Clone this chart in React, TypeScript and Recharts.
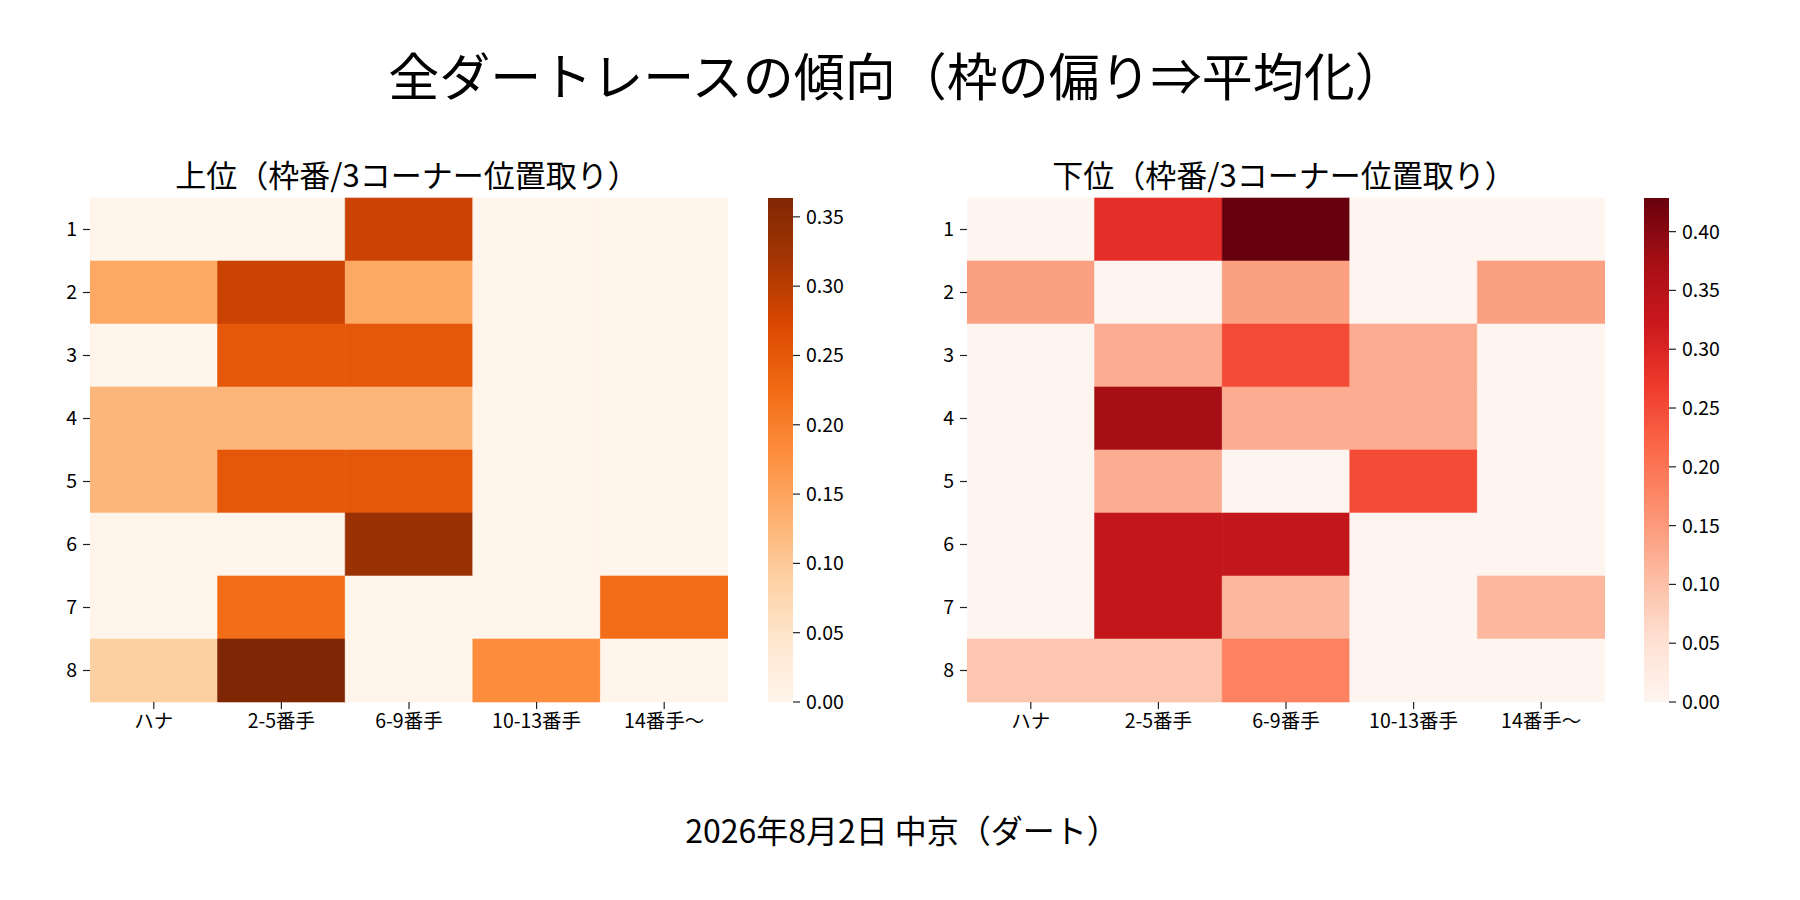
import React from 'react';
import { BarChart, Bar, XAxis, YAxis, Cell } from 'recharts';

// ---- data ----
const columns = ['ハナ', '2-5番手', '6-9番手', '10-13番手', '14番手〜'];
const rowLabels = ['1', '2', '3', '4', '5', '6', '7', '8'];

const upperValues = [
  [0, 0, 0.2857, 0, 0],
  [0.1429, 0.2857, 0.1429, 0, 0],
  [0, 0.25, 0.25, 0, 0],
  [0.125, 0.125, 0.125, 0, 0],
  [0.125, 0.25, 0.25, 0, 0],
  [0, 0, 0.3333, 0, 0],
  [0, 0.2222, 0, 0, 0.2222],
  [0.0909, 0.3636, 0, 0.1818, 0],
];

const lowerValues = [
  [0, 0.2857, 0.4286, 0, 0],
  [0.1429, 0, 0.1429, 0, 0.1429],
  [0, 0.125, 0.25, 0.125, 0],
  [0, 0.375, 0.125, 0.125, 0],
  [0, 0.125, 0, 0.25, 0],
  [0, 0.3333, 0.3333, 0, 0],
  [0, 0.3333, 0.1111, 0, 0.1111],
  [0.0909, 0.0909, 0.1818, 0, 0],
];

const upperTicks = [0, 0.05, 0.1, 0.15, 0.2, 0.25, 0.3, 0.35];
const lowerTicks = [0, 0.05, 0.1, 0.15, 0.2, 0.25, 0.3, 0.35, 0.4];

const orangesStops = ['#fff5eb', '#fee6ce', '#fdd0a2', '#fdae6b', '#fd8d3c', '#f16913', '#d94801', '#a63603', '#7f2704'];
const redsStops = ['#fff5f0', '#fee0d2', '#fcbba1', '#fc9272', '#fb6a4a', '#ef3b2c', '#cb181d', '#a50f15', '#67000d'];

const mainTitle = '全ダートレースの傾向（枠の偏り⇒平均化）';
const upperTitle = '上位（枠番/3コーナー位置取り）';
const lowerTitle = '下位（枠番/3コーナー位置取り）';
const footer = '2026年8月2日 中京（ダート）';

// ---- helpers ----
const FONT = '"Noto Sans CJK JP", "Noto Sans", sans-serif';

function hexToRgb(h: string) {
  return [parseInt(h.slice(1, 3), 16), parseInt(h.slice(3, 5), 16), parseInt(h.slice(5, 7), 16)];
}

function cmap(stops: string[], t: number) {
  const tt = Math.max(0, Math.min(1, t));
  const n = stops.length - 1;
  const pos = tt * n;
  const i = Math.min(n - 1, Math.floor(pos));
  const f = pos - i;
  const a = hexToRgb(stops[i]);
  const b = hexToRgb(stops[i + 1]);
  const c = a.map((v, k) => Math.round(v + (b[k] - v) * f));
  return `rgb(${c[0]},${c[1]},${c[2]})`;
}

const tickStyle = { fill: '#000', fontSize: 19.5, fontFamily: FONT };
const tickLineStyle = { stroke: '#222', strokeWidth: 1.2 };

function Heatmap({ values, stops }: { values: number[][]; stops: string[] }) {
  const vmax = Math.max(...values.flat());
  const data = rowLabels.map((r) => {
    const o: any = { row: r };
    columns.forEach((_, j) => (o[`c${j}`] = 1));
    return o;
  });
  return (
    <BarChart
      width={710}
      height={562}
      data={data}
      layout="vertical"
      barCategoryGap={0}
      barGap={0}
      margin={{ top: 8, right: 12, bottom: 0, left: 0 }}
    >
      <XAxis
        type="number"
        domain={[0, columns.length]}
        ticks={columns.map((_, j) => j + 0.5)}
        tickFormatter={(v: number) => columns[Math.floor(v)]}
        interval={0}
        height={50}
        axisLine={false}
        tickLine={tickLineStyle}
        tickSize={7}
        tickMargin={5}
        tick={tickStyle}
        allowDataOverflow
      />
      <YAxis
        type="category"
        dataKey="row"
        width={60}
        interval={0}
        axisLine={false}
        tickLine={tickLineStyle}
        tickSize={7}
        tickMargin={6}
        tick={tickStyle}
      />
      {columns.map((_, j) => (
        <Bar key={j} dataKey={`c${j}`} stackId="s" isAnimationActive={false}>
          {rowLabels.map((_, i) => {
            const col = cmap(stops, values[i][j] / vmax);
            return <Cell key={i} fill={col} stroke={col} strokeWidth={0.6} />;
          })}
        </Bar>
      ))}
    </BarChart>
  );
}

function ColorBar({ values, ticks, gradId }: { values: number[][]; ticks: number[]; gradId: string }) {
  const vmax = Math.max(...values.flat());
  const data = [{ name: 'cb', v: vmax }];
  return (
    <BarChart
      width={100}
      height={530}
      data={data}
      barCategoryGap={0}
      margin={{ top: 8, right: 0, bottom: 18, left: 0 }}
    >
      <XAxis dataKey="name" hide height={0} />
      <YAxis
        type="number"
        orientation="right"
        domain={[0, vmax]}
        ticks={ticks}
        interval={0}
        tickFormatter={(v: number) => v.toFixed(2)}
        width={75}
        axisLine={false}
        tickLine={tickLineStyle}
        tickSize={7}
        tickMargin={6}
        tick={tickStyle}
        allowDataOverflow
      />
      <Bar dataKey="v" fill={`url(#${gradId})`} isAnimationActive={false} />
    </BarChart>
  );
}

export default function App() {
  return (
    <div
      style={{
        position: 'absolute',
        left: 0,
        top: 0,
        width: 1800,
        height: 900,
        background: '#fff',
        fontFamily: FONT,
        overflow: 'hidden',
      }}
    >
      <svg width={0} height={0} style={{ position: 'absolute' }}>
        <defs>
          <linearGradient id="gradOranges" x1="0" y1="1" x2="0" y2="0">
            {orangesStops.map((c, k) => (
              <stop key={k} offset={k / (orangesStops.length - 1)} stopColor={c} />
            ))}
          </linearGradient>
          <linearGradient id="gradReds" x1="0" y1="1" x2="0" y2="0">
            {redsStops.map((c, k) => (
              <stop key={k} offset={k / (redsStops.length - 1)} stopColor={c} />
            ))}
          </linearGradient>
        </defs>
      </svg>

      <svg width={1800} height={900} style={{ position: 'absolute', left: 0, top: 0 }}>
        <text x={897} y={74} textAnchor="middle" dominantBaseline="central" fontSize={51} fill="#000" fontFamily={FONT}>
          {mainTitle}
        </text>
        <text x={407} y={173} textAnchor="middle" dominantBaseline="central" fontSize={31} fill="#000" fontFamily={FONT}>
          {upperTitle}
        </text>
        <text x={1284} y={173} textAnchor="middle" dominantBaseline="central" fontSize={31} fill="#000" fontFamily={FONT}>
          {lowerTitle}
        </text>
        <text x={902} y={829} textAnchor="middle" dominantBaseline="central" fontSize={32} fill="#000" fontFamily={FONT}>
          {footer}
        </text>
      </svg>

      <div style={{ position: 'absolute', left: 30, top: 190 }}>
        <Heatmap values={upperValues} stops={orangesStops} />
      </div>
      <div style={{ position: 'absolute', left: 768, top: 190 }}>
        <ColorBar values={upperValues} ticks={upperTicks} gradId="gradOranges" />
      </div>
      <div style={{ position: 'absolute', left: 907, top: 190 }}>
        <Heatmap values={lowerValues} stops={redsStops} />
      </div>
      <div style={{ position: 'absolute', left: 1644, top: 190 }}>
        <ColorBar values={lowerValues} ticks={lowerTicks} gradId="gradReds" />
      </div>
    </div>
  );
}
